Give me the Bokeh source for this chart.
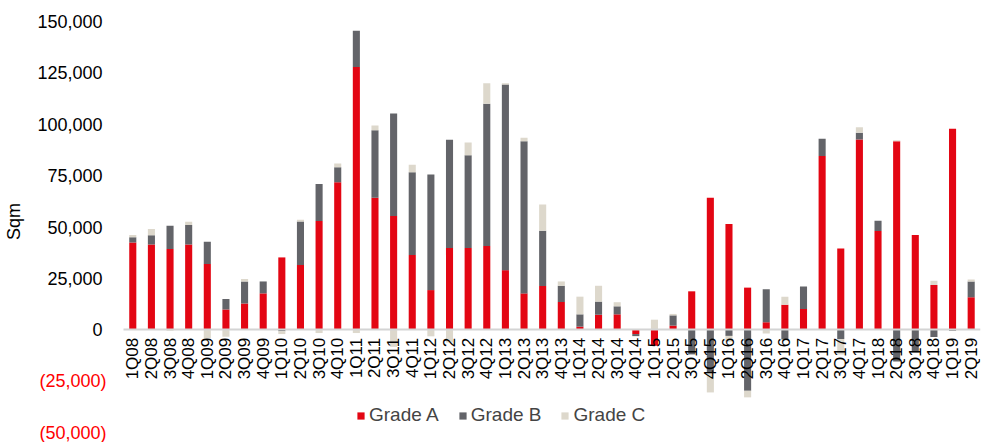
import math
from bokeh.plotting import figure
from bokeh.models import (Range1d, FixedTicker, NumeralTickFormatter, LinearAxis,
                          ColumnDataSource, Legend, LegendItem)
from bokeh.embed import file_html
from bokeh.resources import INLINE

quarters = ["1Q08", "2Q08", "3Q08", "4Q08", "1Q09", "2Q09", "3Q09", "4Q09",
            "1Q10", "2Q10", "3Q10", "4Q10", "1Q11", "2Q11", "3Q11", "4Q11",
            "1Q12", "2Q12", "3Q12", "4Q12", "1Q13", "2Q13", "3Q13", "4Q13",
            "1Q14", "2Q14", "3Q14", "4Q14", "1Q15", "2Q15", "3Q15", "4Q15",
            "1Q16", "2Q16", "3Q16", "4Q16", "1Q17", "2Q17", "3Q17", "4Q17",
            "1Q18", "2Q18", "3Q18", "4Q18", "1Q19", "2Q19"]

grade_a = [42500, 41500, 39300, 41500, 32000, 9800, 12800, 17700,
           35200, 31500, 52900, 71800, 127800, 64200, 55400, 36400,
           19300, 39800, 39800, 40800, 29000, 17700, 21300, 13500,
           1500, 7300, 7500, -2100, -7800, 2000, 18700, 64200,
           51500, 20500, 3600, 12200, 10100, 84600, 39500, 92600,
           48100, 91700, 46100, 21800, 97800, 15800]

grade_b = [2500, 4500, 11300, 9500, 10800, 5200, 10700, 5800,
           -700, 21200, 18000, 7300, 17700, 32900, 49800, 40200,
           56200, 52600, 45100, 69200, 90400, 74000, 26900, 7900,
           6000, 6400, 3900, -1000, 0, 5000, -12000, -21000,
           -3000, -29700, 16100, -4800, 11000, 8300, -4500, 3300,
           5000, -15500, -11000, -3500, -500, 7700]

grade_c = [1100, 3000, -500, 1500, -4200, -3400, 1200, 0,
           -1400, 800, -1600, 1800, -1600, 2300, -8300, 3700,
           -3200, -6200, 6200, 9900, 500, 1700, 12700, 2100,
           8600, 7700, 2000, 0, 4900, 700, 0, -9500,
           -2800, -3200, -1800, 3900, 0, 0, -7500, 2600,
           0, 500, 0, 2100, 0, 1000]

series_names = ["Grade A", "Grade B", "Grade C"]
series_colors = ["#e30613", "#636469", "#ddd8cc"]

y_ticks_pos = [0, 25000, 50000, 75000, 100000, 125000, 150000]
y_ticks_neg = [-25000, -50000]
y_neg_labels = ["(25,000)", "(50,000)"]

FONT = "Liberation Sans"

idx = list(range(len(quarters)))
first_edge = idx[0] - 0.5
last_edge = idx[-1] + 0.5

# axis extent -50,000..150,000 spans 411px; frame padded 21px above and 10px below
y_lo, y_hi = -50000, 150000
per_px = (y_hi - y_lo) / 411.0

p = figure(width=982, height=442, x_range=Range1d(first_edge - 6.6, last_edge),
           y_range=Range1d(y_lo - 10 * per_px, y_hi + 21 * per_px),
           output_backend="svg", toolbar_location=None,
           min_border_left=0, min_border_right=2, min_border_top=0, min_border_bottom=0)
p.outline_line_color = None
p.xgrid.visible = False
p.ygrid.visible = False

# stacking: positives up, negatives down
pos_base = [0.0] * len(quarters)
neg_base = [0.0] * len(quarters)
renderers = []
for vals, name, col in zip([grade_a, grade_b, grade_c], series_names, series_colors):
    bottoms, tops = [], []
    for i, v in enumerate(vals):
        if v >= 0:
            bottoms.append(pos_base[i]); tops.append(pos_base[i] + v); pos_base[i] += v
        else:
            bottoms.append(neg_base[i]); tops.append(neg_base[i] + v); neg_base[i] += v
    src = ColumnDataSource(dict(x=idx, bottom=bottoms, top=tops))
    r = p.vbar(x="x", bottom="bottom", top="top", width=0.38, source=src,
               fill_color=col, line_color=None)
    renderers.append((name, r))

# x axis at zero
xa = p.xaxis[0]
xa.fixed_location = 0
xa.bounds = (first_edge, last_edge)
xa.ticker = FixedTicker(ticks=idx)
xa.major_label_overrides = dict(zip(idx, quarters))
xa.major_label_orientation = math.pi / 2
xa.major_label_text_font = FONT
xa.major_label_text_font_size = "17px"
xa.major_label_text_color = "#000000"
xa.major_label_standoff = 8
xa.axis_line_color = "#d4d4d4"
xa.axis_line_width = 2
xa.major_tick_line_color = None
xa.minor_tick_line_color = None
xa.major_tick_out = 0
xa.major_tick_in = 0

# main y axis (positioned at the left edge of the bars)
ya = p.yaxis[0]
ya.fixed_location = first_edge
ya.ticker = FixedTicker(ticks=y_ticks_pos)
ya.formatter = NumeralTickFormatter(format="0,0")
ya.major_label_text_font = FONT
ya.major_label_text_font_size = "18px"
ya.major_label_text_color = "#000000"
ya.axis_line_color = None
ya.major_tick_line_color = None
ya.minor_tick_line_color = None
ya.major_tick_out = 0
ya.major_tick_in = 0
ya.major_label_standoff = 21
ya.axis_label = "Sqm"
ya.axis_label_text_font = FONT
ya.axis_label_text_font_size = "18px"
ya.axis_label_text_font_style = "normal"
ya.axis_label_text_color = "#000000"
ya.axis_label_standoff = 10

# red negative tick labels
ya2 = LinearAxis(fixed_location=first_edge, ticker=FixedTicker(ticks=y_ticks_neg),
                 major_label_overrides=dict(zip(y_ticks_neg, y_neg_labels)))
ya2.major_label_text_font = FONT
ya2.major_label_text_font_size = "18px"
ya2.major_label_text_color = "#ff0000"
ya2.axis_line_color = None
ya2.major_tick_line_color = None
ya2.minor_tick_line_color = None
ya2.major_tick_out = 0
ya2.major_tick_in = 0
ya2.major_label_standoff = 17
p.add_layout(ya2, "left")

legend = Legend(items=[LegendItem(label=n, renderers=[r]) for n, r in renderers],
                orientation="horizontal", location=(356, 16),
                glyph_width=9, glyph_height=9, label_standoff=4, spacing=19,
                padding=0, margin=0, label_height=20,
                label_text_font=FONT, label_text_font_size="19px",
                background_fill_alpha=0, border_line_alpha=0)
p.add_layout(legend, "center")

open("out.html", "w").write(file_html(p, INLINE))
